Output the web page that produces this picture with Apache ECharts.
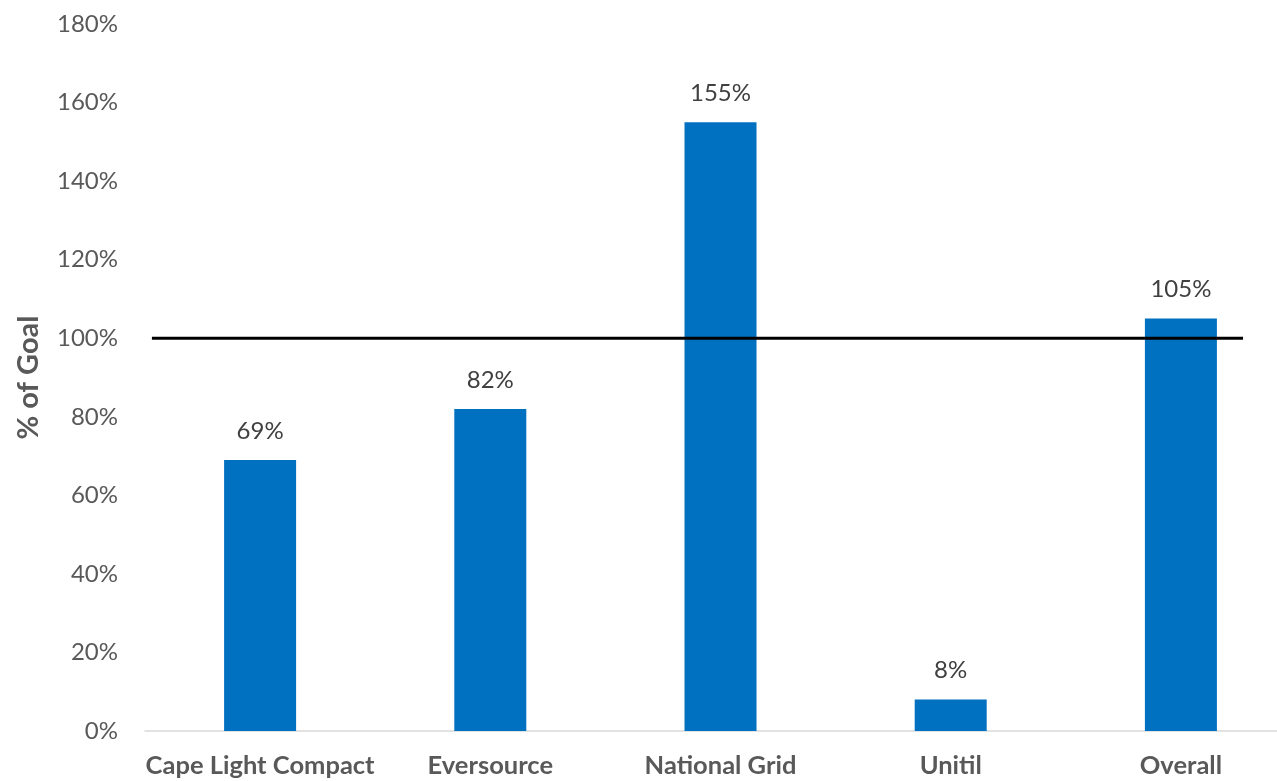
<!DOCTYPE html>
<html><head><meta charset="utf-8">
<script src="https://cdn.jsdelivr.net/npm/echarts@6/dist/echarts.min.js"></script>
<style>html,body{margin:0;padding:0;background:#fff;overflow:hidden}#c{width:1300px;height:781px}</style>
</head><body><div id="c"></div>
<script>
const categories = ['Cape Light Compact', 'Eversource', 'National Grid', 'Unitil', 'Overall'];
const values = [69, 82, 155, 8, 105];
const goalLine = [[0.03, 100], [4.77, 100]];
const yTicks = {min: 0, max: 180, interval: 20};

const FONT = 'Lato, "Open Sans", sans-serif';
const chart = echarts.init(document.getElementById('c'));
chart.setOption({
  animation: false,
  grid: {left: 145, right: 4, top: 24, bottom: 50, containLabel: false},
  xAxis: [{
    type: 'category', data: categories,
    axisLine: {show: true, lineStyle: {color: '#d9d9d9', width: 1.5}},
    axisTick: {show: false},
    axisLabel: {color: '#595959', fontSize: 25.5, fontWeight: 'bold', fontFamily: FONT, margin: 22, interval: 0}
  }, {
    type: 'value', min: 0, max: 5, show: false
  }],
  yAxis: {
    type: 'value', min: yTicks.min, max: yTicks.max, interval: yTicks.interval,
    name: '% of Goal', nameLocation: 'middle', nameGap: 102, nameRotate: 90,
    nameTextStyle: {color: '#595959', fontSize: 29, fontWeight: 'bold', fontFamily: FONT},
    axisLine: {show: false}, axisTick: {show: false}, splitLine: {show: false},
    axisLabel: {color: '#595959', fontSize: 24, fontFamily: FONT, margin: 27, formatter: '{value}%'}
  },
  series: [{
    type: 'bar', data: values, barWidth: 72,
    itemStyle: {color: '#0070C0'},
    label: {show: true, position: 'top', distance: 17, color: '#404040', fontSize: 24, fontFamily: FONT, formatter: '{c}%'}
  }, {
    type: 'line', xAxisIndex: 1, data: goalLine, symbol: 'none',
    lineStyle: {color: '#000', width: 3}, z: 5
  }]
});
</script></body></html>
